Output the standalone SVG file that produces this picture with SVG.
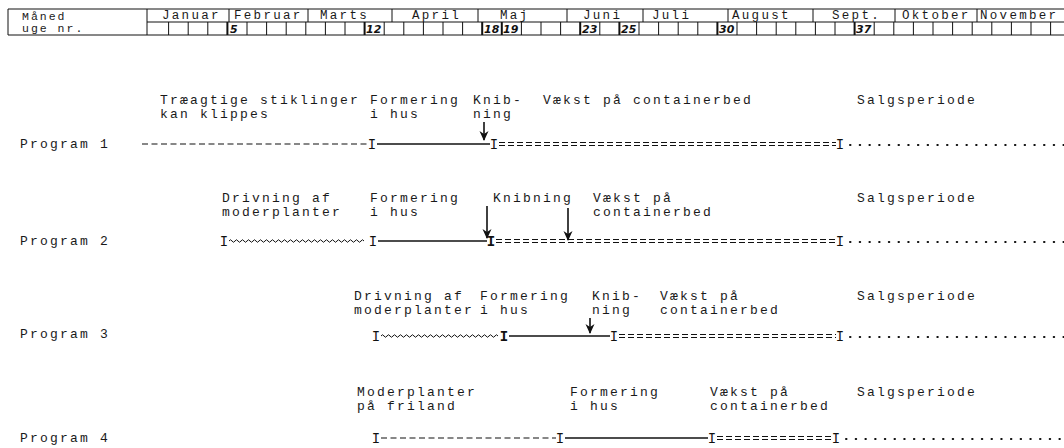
<svg xmlns="http://www.w3.org/2000/svg" width="1064" height="448" viewBox="0 0 1064 448">
<style>
.t{font-family:"Liberation Mono","DejaVu Sans Mono",monospace;font-size:13px;letter-spacing:2.2px;fill:#1a1a1a}
.h{font-family:"Liberation Mono","DejaVu Sans Mono",monospace;font-size:12.5px;letter-spacing:2.3px;fill:#1a1a1a}
.hb{font-family:"Liberation Mono","DejaVu Sans Mono",monospace;font-size:11.5px;letter-spacing:2px;fill:#1a1a1a}
.wk{font-family:"DejaVu Sans",sans-serif;font-style:italic;font-weight:bold;font-size:11px;fill:#111}
.ib{font-family:"Liberation Mono","DejaVu Sans Mono",monospace;font-size:14px;text-anchor:middle;fill:#111}
.ln{stroke:#111;fill:none}
.solid{stroke-width:1.6}
.dash{stroke-width:1.1;stroke-dasharray:6 3.5}
.dbl{stroke-width:1;stroke-dasharray:6 3}
.dot{stroke-width:2;stroke-dasharray:0.5 9.2;stroke-linecap:round}
.wave{stroke-width:1}
.arr{stroke-width:1.6;marker-end:url(#ah)}
.grid{stroke:#111;stroke-width:1;fill:none}
.tk{stroke:#111;stroke-width:1}
.tkb{stroke:#111;stroke-width:2}
</style>
<defs>
<marker id="ah" viewBox="0 0 10 10" refX="9" refY="5" markerWidth="10" markerHeight="10" markerUnits="userSpaceOnUse" orient="auto">
<path d="M0,0.5 L10,5 L0,9.5 L3,5 Z" fill="#111"/>
</marker>
</defs>
<rect width="1064" height="448" fill="#fff"/>

<g id="header">
<path class="grid" d="M8,9 H1064 M8,9 V35 M147,9 V35 M147,22 H1064 M8,35 H1064"/>
<text class="hb" x="22" y="20">Måned</text>
<text class="hb" x="22" y="32">uge nr.</text>
<path class="grid" d="M229,9 V22 M308,9 V22 M392,9 V22 M478,9 V22 M567,9 V22 M643,9 V22 M728,9 V22 M813,9 V22 M895,9 V22 M977,9 V22"/>
<text class="h" x="162" y="19">Januar</text>
<text class="h" x="234" y="19">Februar</text>
<text class="h" x="320" y="19">Marts</text>
<text class="h" x="412" y="19">April</text>
<text class="h" x="500" y="19">Maj</text>
<text class="h" x="583" y="19">Juni</text>
<text class="h" x="652" y="19">Juli</text>
<text class="h" x="732" y="19">August</text>
<text class="h" x="832" y="19">Sept.</text>
<text class="h" x="902" y="19">Oktober</text>
<text class="h" x="980" y="19">November</text>
<path class="tk" d="M168.6,22V35 M188.2,22V35 M207.8,22V35 M247,22V35 M266.6,22V35 M286.2,22V35 M305.8,22V35 M325.4,22V35 M345,22V35 M384.2,22V35 M403.8,22V35 M423.4,22V35 M443,22V35 M462.6,22V35 M521.4,22V35 M541,22V35 M560.6,22V35 M599.8,22V35 M639,22V35 M658.6,22V35 M678.2,22V35 M697.8,22V35 M737,22V35 M756.6,22V35 M776.2,22V35 M795.8,22V35 M815.4,22V35 M835,22V35 M874.2,22V35 M893.8,22V35 M913.4,22V35 M933,22V35 M952.6,22V35 M972.2,22V35 M991.8,22V35 M1011.4,22V35 M1031,22V35 M1050.6,22V35"/>
<path class="tkb" d="M227.4,22V35 M364.6,22V35 M482.2,22V35 M501.8,22V35 M580.2,22V35 M619.4,22V35 M717.4,22V35 M854.6,22V35"/>
<text class="wk" x="230" y="33">5</text>
<text class="wk" x="366" y="33">12</text>
<text class="wk" x="484" y="33">18</text>
<text class="wk" x="503" y="33">19</text>
<text class="wk" x="582" y="33">23</text>
<text class="wk" x="621" y="33">25</text>
<text class="wk" x="719" y="33">30</text>
<text class="wk" x="856" y="33">37</text>
</g>

<g id="program1">
<text class="t" x="20" y="148">Program 1</text>
<g id="p1-traeagtige"><text class="t" x="160" y="104">Træagtige stiklinger</text><text class="t" x="160" y="118">kan klippes</text></g>
<g id="p1-formering"><text class="t" x="370" y="104">Formering</text><text class="t" x="370" y="118">i hus</text></g>
<g id="p1-knib"><text class="t" x="473" y="104">Knib-</text><text class="t" x="473" y="118">ning</text></g>
<g id="p1-vaekst"><text class="t" x="543" y="104">Vækst på containerbed</text></g>
<g id="p1-salg"><text class="t" x="857" y="104">Salgsperiode</text></g>
</g>

<g id="program2">
<text class="t" x="20" y="245">Program 2</text>
<g id="p2-drivning"><text class="t" x="222" y="202">Drivning af</text><text class="t" x="222" y="216">moderplanter</text></g>
<g id="p2-formering"><text class="t" x="370" y="202">Formering</text><text class="t" x="370" y="216">i hus</text></g>
<g id="p2-knibning"><text class="t" x="493" y="202">Knibning</text></g>
<g id="p2-vaekst"><text class="t" x="593" y="202">Vækst på</text><text class="t" x="593" y="216">containerbed</text></g>
<g id="p2-salg"><text class="t" x="857" y="202">Salgsperiode</text></g>
</g>

<g id="program3">
<text class="t" x="20" y="338">Program 3</text>
<g id="p3-drivning"><text class="t" x="354" y="300">Drivning af</text><text class="t" x="354" y="314">moderplanter</text></g>
<g id="p3-formering"><text class="t" x="480" y="300">Formering</text><text class="t" x="480" y="314">i hus</text></g>
<g id="p3-knib"><text class="t" x="592" y="300">Knib-</text><text class="t" x="592" y="314">ning</text></g>
<g id="p3-vaekst"><text class="t" x="660" y="300">Vækst på</text><text class="t" x="660" y="314">containerbed</text></g>
<g id="p3-salg"><text class="t" x="857" y="300">Salgsperiode</text></g>
</g>

<g id="program4">
<text class="t" x="20" y="442">Program 4</text>
<g id="p4-moder"><text class="t" x="357" y="396">Moderplanter</text><text class="t" x="357" y="410">på friland</text></g>
<g id="p4-formering"><text class="t" x="570" y="396">Formering</text><text class="t" x="570" y="410">i hus</text></g>
<g id="p4-vaekst"><text class="t" x="710" y="396">Vækst på</text><text class="t" x="710" y="410">containerbed</text></g>
<g id="p4-salg"><text class="t" x="857" y="396">Salgsperiode</text></g>
</g>

<g id="connectors">
<!-- Program 1 -->
<line class="ln dash" x1="142" y1="144" x2="368" y2="144"/>
<text class="ib" x="372" y="149">I</text>
<line class="ln solid" x1="377" y1="144" x2="490" y2="144"/>
<text class="ib" x="494" y="149">I</text>
<path class="ln dbl" d="M499,142.5 H836 M499,145.5 H836"/>
<text class="ib" x="840" y="149">I</text>
<line class="ln dot" x1="850" y1="145" x2="1064" y2="145"/>
<line class="ln arr" x1="484" y1="122" x2="484" y2="140"/>
<!-- Program 2 -->
<text class="ib" x="224" y="246">I</text>
<path class="ln wave" d="M229,241 q1.5,-2.5 3,0 t3,0 t3,0 t3,0 t3,0 t3,0 t3,0 t3,0 t3,0 t3,0 t3,0 t3,0 t3,0 t3,0 t3,0 t3,0 t3,0 t3,0 t3,0 t3,0 t3,0 t3,0 t3,0 t3,0 t3,0 t3,0 t3,0 t3,0 t3,0 t3,0 t3,0 t3,0 t3,0 t3,0 t3,0 t3,0 t3,0 t3,0 t3,0 t3,0 t3,0 t3,0 t3,0 t3,0 t3,0"/>
<text class="ib" x="373" y="246">I</text>
<line class="ln solid" x1="378" y1="241" x2="487" y2="241"/>
<text class="ib" x="491" y="246" font-weight="bold">I</text>
<path class="ln dbl" d="M496,239.5 H836 M496,242.5 H836"/>
<text class="ib" x="840" y="246">I</text>
<line class="ln dot" x1="850" y1="242" x2="1064" y2="242"/>
<line class="ln arr" x1="487" y1="206" x2="487" y2="238"/>
<line class="ln arr" x1="568" y1="208" x2="568" y2="240"/>
<!-- Program 3 -->
<text class="ib" x="376" y="341">I</text>
<path class="ln wave" d="M381,336 q1.5,-2.5 3,0 t3,0 t3,0 t3,0 t3,0 t3,0 t3,0 t3,0 t3,0 t3,0 t3,0 t3,0 t3,0 t3,0 t3,0 t3,0 t3,0 t3,0 t3,0 t3,0 t3,0 t3,0 t3,0 t3,0 t3,0 t3,0 t3,0 t3,0 t3,0 t3,0 t3,0 t3,0 t3,0 t3,0 t3,0 t3,0 t3,0 t3,0 t3,0"/>
<text class="ib" x="504" y="341" font-weight="bold">I</text>
<line class="ln solid" x1="509" y1="336" x2="610" y2="336"/>
<text class="ib" x="614" y="341">I</text>
<path class="ln dbl" d="M619,334.5 H836 M619,337.5 H836"/>
<text class="ib" x="840" y="341">I</text>
<line class="ln dot" x1="850" y1="337" x2="1064" y2="337"/>
<line class="ln arr" x1="590" y1="318" x2="590" y2="333"/>
<!-- Program 4 -->
<text class="ib" x="376" y="443">I</text>
<line class="ln dash" x1="381" y1="438" x2="556" y2="438"/>
<text class="ib" x="560" y="443">I</text>
<line class="ln solid" x1="565" y1="438" x2="708" y2="438"/>
<text class="ib" x="712" y="443">I</text>
<path class="ln dbl" d="M717,436.5 H832 M717,439.5 H832"/>
<text class="ib" x="836" y="443">I</text>
<line class="ln dot" x1="846" y1="439" x2="1064" y2="439"/>
</g>
</svg>
